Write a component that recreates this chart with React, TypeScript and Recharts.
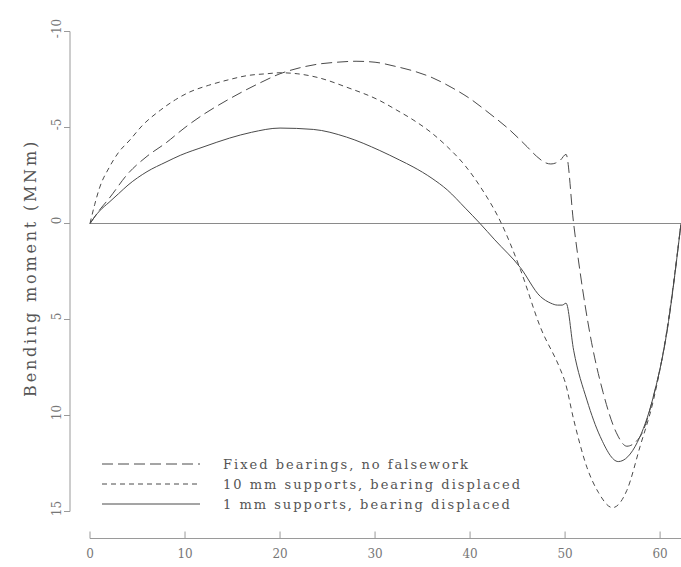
import React from 'react';
import { LineChart, Line, XAxis, YAxis, ReferenceLine, Legend } from 'recharts';

// x in m along the deck, y in MNm (sagging drawn downwards)
const xTicks = [0, 10, 20, 30, 40, 50, 60];
const yTicks = [-10, -5, 0, 5, 10, 15];

const seriesNames = [
  'Fixed bearings, no falsework',
  '10 mm supports, bearing displaced',
  '1 mm supports, bearing displaced',
];

const fixedX = [0, 1, 2, 4, 6, 8, 10, 12, 14, 16, 18, 20, 22, 24, 26, 28, 30, 32, 34, 36, 38, 40, 42, 44, 46, 47, 48, 48.5, 49, 49.5, 50.1, 50.9, 51.6, 52.6, 54, 55.4, 56.5, 57.9, 59.3, 60.7, 62.2];
const fixedY = [0, -0.7, -1.3, -2.6, -3.5, -4.2, -5.0, -5.7, -6.3, -6.85, -7.35, -7.8, -8.1, -8.3, -8.4, -8.45, -8.4, -8.2, -7.95, -7.6, -7.1, -6.5, -5.75, -4.95, -4.0, -3.5, -3.15, -3.1, -3.15, -3.3, -3.6, 0, 2.6, 5.7, 8.8, 10.9, 11.6, 11.1, 9.0, 5.7, 0];

const mm10X = [0, 0.5, 1, 2, 3, 4.2, 5.5, 7.4, 9, 10.5, 12.5, 14.7, 16.5, 18.6, 20, 21.8, 24, 27, 30.5, 32.3, 34, 36, 37.6, 39.5, 41.1, 43.3, 45.3, 47.4, 49.5, 50, 50.9, 52.3, 53.5, 55, 56.5, 57.9, 59.3, 60.7, 62.2];
const mm10Y = [0, -1.0, -1.85, -2.9, -3.7, -4.35, -5.1, -5.9, -6.45, -6.85, -7.2, -7.5, -7.7, -7.8, -7.85, -7.8, -7.6, -7.1, -6.4, -5.9, -5.4, -4.7, -4.0, -3.0, -1.9, 0, 2.4, 5.4, 7.6, 8.25, 10.2, 12.7, 14.0, 14.8, 13.9, 11.6, 9.2, 5.6, 0];

const mm1X = [0, 0.5, 1, 2, 3, 4, 6, 8, 9.5, 12, 14.7, 17, 20, 23.5, 27, 30.5, 32.6, 34, 36, 37.6, 39.5, 41.05, 42.6, 45.3, 47.4, 48.5, 49.2, 49.7, 50.1, 50.9, 52.3, 53.7, 55.6, 57.6, 59.3, 60.7, 62.2];
const mm1Y = [0, -0.35, -0.65, -1.1, -1.55, -2.0, -2.7, -3.2, -3.55, -4.0, -4.45, -4.75, -4.97, -4.9, -4.5, -3.8, -3.3, -2.95, -2.35, -1.75, -0.8, 0, 0.85, 2.3, 3.8, 4.15, 4.25, 4.25, 4.15, 6.6, 9.2, 11.1, 12.4, 11.4, 9.0, 5.7, 0];

const toPoints = (xs: number[], ys: number[]) => xs.map((x, i) => ({ x, y: ys[i] }));

const X_MAX = 62.2;
const PLOT_W = 591;
// y axis line sits 20px left of x = 0
const yAxisLineX = -20 * X_MAX / PLOT_W;

const LINE = '#4a4a4a';
const AXIS = '#9a9a9a';
const FONT = '"DejaVu Serif", serif';

const series = [
  { name: seriesNames[0], data: toPoints(fixedX, fixedY), dash: '11 5' },
  { name: seriesNames[1], data: toPoints(mm10X, mm10Y), dash: '5 4' },
  { name: seriesNames[2], data: toPoints(mm1X, mm1Y), dash: undefined },
];

const XTick = ({ x, y, payload }: any) => (
  <g>
    <line x1={x} y1={y - 7} x2={x} y2={y} stroke={AXIS} />
    <text x={x} y={y + 19} textAnchor="middle" fontSize={12} fill="#777" fontFamily={FONT}>
      {payload.value}
    </text>
  </g>
);

const YTick = ({ x, y, payload }: any) => {
  const tx = x - 33;
  const ty = y - 3;
  return (
    <g>
      <line x1={x - 26} y1={y} x2={x - 20} y2={y} stroke={AXIS} />
      <text x={tx} y={ty} transform={`rotate(-90 ${tx} ${ty})`} textAnchor="middle" dominantBaseline="central"
        fontSize={12} fill="#777" fontFamily={FONT}>
        {payload.value}
      </text>
    </g>
  );
};

const renderLegend = () => (
  <div style={{ fontFamily: FONT }}>
    {series.map(s => (
      <div key={s.name} style={{ display: 'flex', alignItems: 'center', height: 20 }}>
        <svg width={98} height={10} style={{ display: 'block' }}>
          <line x1={0} y1={5} x2={98} y2={5} stroke={LINE} strokeDasharray={s.dash} />
        </svg>
        <span style={{ marginLeft: 23, fontSize: 13, letterSpacing: 2, color: '#555', whiteSpace: 'nowrap' }}>
          {s.name}
        </span>
      </div>
    ))}
  </div>
);

export default function App() {
  return (
    <div style={{ position: 'absolute', left: 0, top: 0, width: 681, height: 567, background: '#fff' }}>
      <LineChart width={681} height={567} margin={{ top: 31.5, right: 0, bottom: 0, left: 0 }}
        style={{ fontFamily: FONT }}>
        <XAxis dataKey="x" type="number" domain={[0, X_MAX]} ticks={xTicks} height={28.5}
          axisLine={{ stroke: AXIS }} tickLine={false} tickSize={0} tickMargin={0} tick={<XTick />} />
        <YAxis type="number" domain={[-10, 15]} reversed ticks={yTicks} width={90} padding={{ top: 0, bottom: 27 }}
          axisLine={false} tickLine={false} tickSize={0} tickMargin={0} tick={<YTick />}
          label={() => (
            <text x={30} y={268} transform="rotate(-90 30 268)" textAnchor="middle" dominantBaseline="central"
              fontSize={16} letterSpacing={2.8} fill="#555" fontFamily={FONT}>
              Bending moment (MNm)
            </text>
          )} />
        <ReferenceLine segment={[{ x: yAxisLineX, y: -10 }, { x: yAxisLineX, y: 15 }]} stroke={AXIS} ifOverflow="visible" />
        <ReferenceLine y={0} stroke="#8a8a8a" />
        {series.map(s => (
          <Line key={s.name} data={s.data} dataKey="y" name={s.name} type="monotone" stroke={LINE}
            strokeWidth={1} strokeDasharray={s.dash} dot={false} activeDot={false} isAnimationActive={false} />
        ))}
        <Legend layout="vertical" align="center" verticalAlign="middle" content={renderLegend}
          wrapperStyle={{ left: 102, top: 454, width: 480 }} />
      </LineChart>
    </div>
  );
}
